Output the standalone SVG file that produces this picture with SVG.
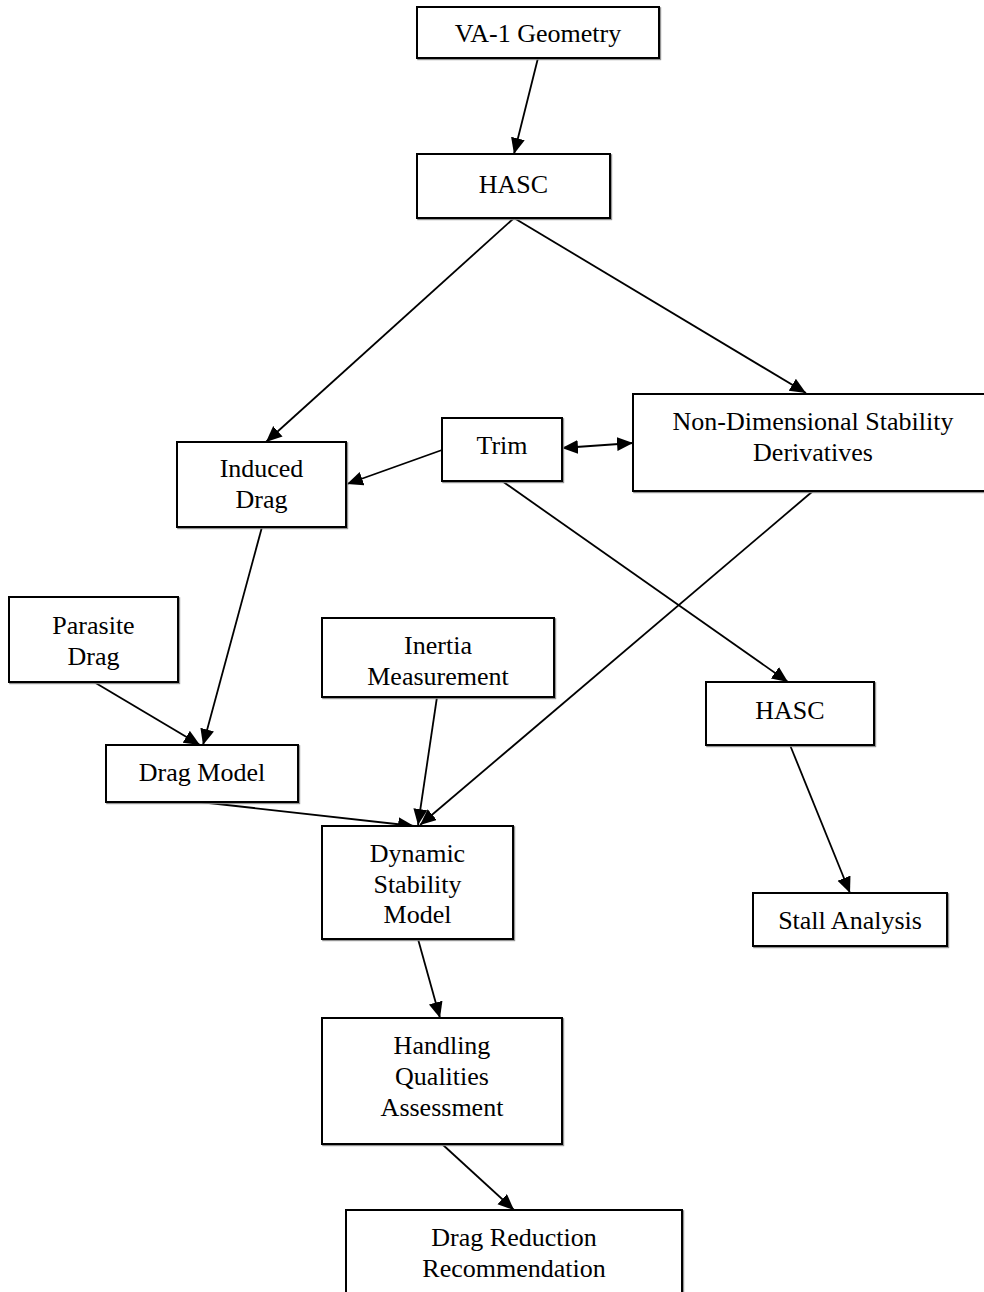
<svg xmlns="http://www.w3.org/2000/svg" width="984" height="1292" viewBox="0 0 984 1292">
<style>
.box{fill:#fff;stroke:#000;stroke-width:2;filter:url(#sh)}
.t{font-family:"Liberation Serif","Times New Roman",serif;font-size:26px;fill:#000;text-anchor:middle}
.c line{stroke:#000;stroke-width:1.8;marker-end:url(#ah)}
</style>
<defs>
<filter id="sh" x="-5%" y="-5%" width="110%" height="110%">
<feDropShadow dx="1.2" dy="1.2" stdDeviation="0.4" flood-color="#888" flood-opacity="0.9"/>
</filter>
<marker id="ah" markerUnits="userSpaceOnUse" markerWidth="18" markerHeight="16" refX="16" refY="7" orient="auto-start-reverse">
<path d="M0,0 L16,7 L0,14 z" fill="#000"/>
</marker>
</defs>
<rect width="984" height="1292" fill="#fff"/>
<g class="c" id="connectors">
<line x1="538" y1="58" x2="514" y2="154"/>
<line x1="514" y1="218" x2="266" y2="442"/>
<line x1="514" y1="218" x2="806" y2="393"/>
<line x1="562" y1="448" x2="633" y2="443" marker-start="url(#ah)"/>
<line x1="442" y1="450" x2="347" y2="484"/>
<line x1="502" y1="481" x2="788" y2="682"/>
<line x1="813" y1="491" x2="420" y2="825"/>
<line x1="437" y1="697" x2="418" y2="825"/>
<line x1="200" y1="802" x2="414" y2="826"/>
<line x1="262" y1="527" x2="203" y2="745"/>
<line x1="94" y1="682" x2="200" y2="745"/>
<line x1="790" y1="745" x2="850" y2="893"/>
<line x1="418" y1="939" x2="440" y2="1018"/>
<line x1="442" y1="1144" x2="514" y2="1210"/>
</g>
<g id="va1">
<rect class="box" x="417" y="7" width="242" height="51"/>
<text class="t" x="538" y="42">VA-1 Geometry</text>
</g>
<g id="hasc1">
<rect class="box" x="417" y="154" width="193" height="64"/>
<text class="t" x="513.5" y="193">HASC</text>
</g>
<g id="induced">
<rect class="box" x="177" y="442" width="169" height="85"/>
<text class="t" x="261.5" y="477">Induced</text>
<text class="t" x="261.5" y="508">Drag</text>
</g>
<g id="trim">
<rect class="box" x="442" y="418" width="120" height="63"/>
<text class="t" x="502" y="454">Trim</text>
</g>
<g id="nondim">
<rect class="box" x="633" y="394" width="360" height="97"/>
<text class="t" x="813" y="430">Non-Dimensional Stability</text>
<text class="t" x="813" y="461">Derivatives</text>
</g>
<g id="parasite">
<rect class="box" x="9" y="597" width="169" height="85"/>
<text class="t" x="93.5" y="634">Parasite</text>
<text class="t" x="93.5" y="665">Drag</text>
</g>
<g id="inertia">
<rect class="box" x="322" y="618" width="232" height="79"/>
<text class="t" x="438" y="654">Inertia</text>
<text class="t" x="438" y="685">Measurement</text>
</g>
<g id="dragmodel">
<rect class="box" x="106" y="745" width="192" height="57"/>
<text class="t" x="202" y="781">Drag Model</text>
</g>
<g id="hasc2">
<rect class="box" x="706" y="682" width="168" height="63"/>
<text class="t" x="790" y="719">HASC</text>
</g>
<g id="dynamic">
<rect class="box" x="322" y="826" width="191" height="113"/>
<text class="t" x="417.5" y="862">Dynamic</text>
<text class="t" x="417.5" y="893">Stability</text>
<text class="t" x="417.5" y="923">Model</text>
</g>
<g id="stall">
<rect class="box" x="753" y="893" width="194" height="53"/>
<text class="t" x="850" y="929">Stall Analysis</text>
</g>
<g id="handling">
<rect class="box" x="322" y="1018" width="240" height="126"/>
<text class="t" x="442" y="1054">Handling</text>
<text class="t" x="442" y="1085">Qualities</text>
<text class="t" x="442" y="1116">Assessment</text>
</g>
<g id="dragreduction">
<rect class="box" x="346" y="1210" width="336" height="100"/>
<text class="t" x="514" y="1246">Drag Reduction</text>
<text class="t" x="514" y="1277">Recommendation</text>
</g>
</svg>
